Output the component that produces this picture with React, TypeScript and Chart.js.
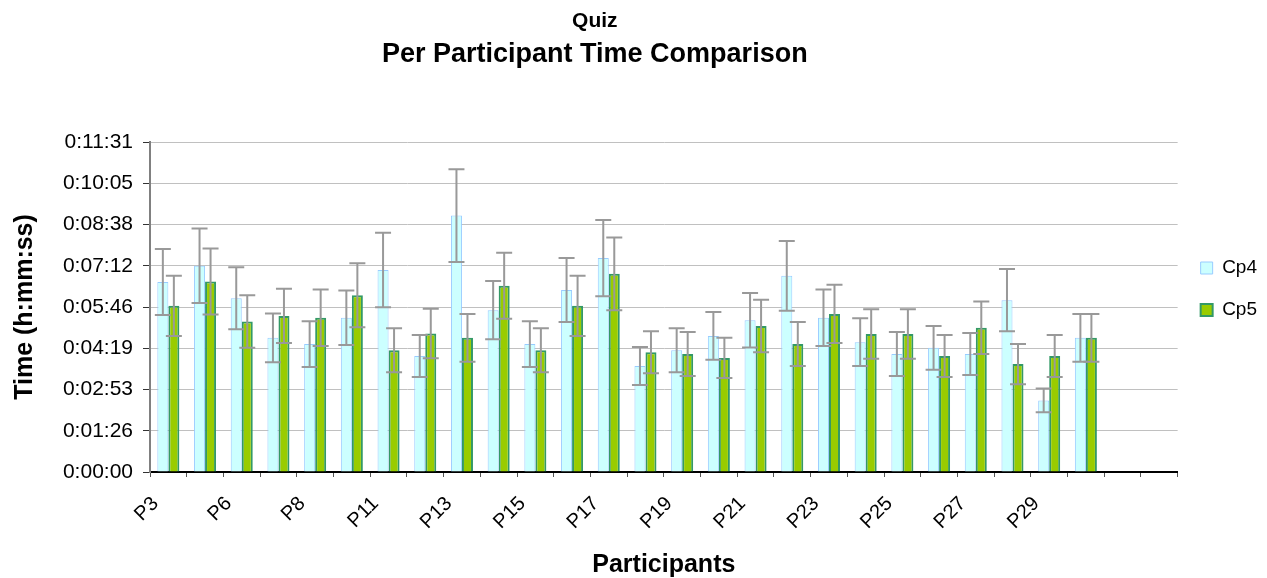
import React, { useEffect, useRef } from 'react';
import { Chart, registerables } from 'chart.js';

Chart.register(...registerables);
Chart.defaults.font.family = '"Liberation Sans", Arial, Helvetica, sans-serif';
Chart.defaults.color = '#000000';

// Categories (only every other label is displayed, as in the original)
const CATEGORIES = [
  'P3', 'P4', 'P6', 'P7', 'P8', 'P10', 'P11', 'P12', 'P13', 'P14', 'P15', 'P16', 'P17', 'P18',
  'P19', 'P20', 'P21', 'P22', 'P23', 'P24', 'P25', 'P26', 'P27', 'P28', 'P29', 'P30', '', '',
];

// Times in seconds
const CP4 = [398, 432, 364, 281, 268, 323, 423, 243, 537, 339, 268, 381, 448, 222, 255, 285, 318, 411, 323, 272, 247, 260, 247, 360, 150, 281];
const CP4_ERR = [69, 78, 65, 51, 48, 57, 78, 44, 97, 61, 48, 67, 80, 40, 46, 50, 57, 73, 59, 50, 46, 46, 44, 65, 25, 50];
const CP5 = [348, 399, 315, 327, 323, 370, 255, 290, 281, 390, 255, 348, 415, 251, 247, 239, 306, 268, 331, 289, 289, 243, 302, 226, 243, 281];
const CP5_ERR = [63, 69, 55, 57, 59, 67, 46, 52, 50, 69, 46, 63, 76, 44, 46, 42, 55, 46, 61, 52, 52, 44, 55, 42, 44, 50];

// Y axis: 0:00:00 .. 0:11:31 in steps of 0:01:26.4 (seconds)
const Y_MIN = 0;
const Y_MAX = 691.2;
const Y_STEP = 86.4;

const fmtTime = (s: number) => {
  const t = Math.round(s);
  const h = Math.floor(t / 3600);
  const m = Math.floor((t % 3600) / 60);
  const sec = t % 60;
  return `${h}:${String(m).padStart(2, '0')}:${String(sec).padStart(2, '0')}`;
};

const errorBarPlugin = {
  id: 'errorBars',
  afterDatasetsDraw(chart: any) {
    const { ctx } = chart;
    const yScale = chart.scales.y;
    ctx.save();
    ctx.strokeStyle = '#999999';
    ctx.lineWidth = 2;
    chart.data.datasets.forEach((ds: any, i: number) => {
      const meta = chart.getDatasetMeta(i);
      if (meta.hidden) return;
      meta.data.forEach((el: any, j: number) => {
        const v = ds.data[j];
        const e = ds.errors ? ds.errors[j] : null;
        if (v == null || e == null) return;
        const x = el.x;
        const top = yScale.getPixelForValue(v + e);
        const bot = yScale.getPixelForValue(v - e);
        const cap = 8;
        ctx.beginPath();
        ctx.moveTo(x, top);
        ctx.lineTo(x, bot);
        ctx.moveTo(x - cap, top);
        ctx.lineTo(x + cap, top);
        ctx.moveTo(x - cap, bot);
        ctx.lineTo(x + cap, bot);
        ctx.stroke();
      });
    });
    ctx.restore();
  },
};

// Centre the titles over the region left of the legend (as in the original)
const titleShiftPlugin = {
  id: 'titleShift',
  afterLayout(chart: any) {
    const legend = chart.legend;
    if (!legend) return;
    (chart.boxes || []).forEach((b: any) => {
      if (b.position === 'top') {
        b.left = 0;
        b.right = legend.left + 12;
      }
    });
  },
};

export default function App() {
  const canvasRef = useRef<HTMLCanvasElement | null>(null);

  useEffect(() => {
    if (!canvasRef.current) return;
    const chart = new Chart(canvasRef.current, {
      type: 'bar',
      data: {
        labels: CATEGORIES,
        datasets: [
          {
            label: 'Cp4',
            data: CP4,
            errors: CP4_ERR,
            backgroundColor: '#CCFFFF',
            borderColor: '#99CCFF',
            borderWidth: 1,
            categoryPercentage: 0.6,
            barPercentage: 1,
          } as any,
          {
            label: 'Cp5',
            data: CP5,
            errors: CP5_ERR,
            backgroundColor: '#99CC00',
            borderColor: '#339966',
            borderWidth: 2,
            categoryPercentage: 0.6,
            barPercentage: 1,
          } as any,
        ],
      },
      options: {
        animation: false,
        responsive: true,
        maintainAspectRatio: false,
        layout: { padding: 0 },
        plugins: {
          title: {
            display: true,
            text: 'Quiz',
            color: '#000',
            font: { size: 21, weight: 'bold' },
            padding: { top: 8.4, bottom: 0 },
          },
          subtitle: {
            display: true,
            text: 'Per Participant Time Comparison',
            color: '#000',
            font: { size: 27, weight: 'bold' },
            padding: { top: 5.2, bottom: 70.8 },
          },
          legend: {
            position: 'right',
            labels: {
              boxWidth: 12,
              boxHeight: 12,
              padding: 23,
              color: '#000',
              font: { size: 19 },
            },
          },
          tooltip: { enabled: false },
        },
        scales: {
          x: {
            offset: true,
            grid: {
              offset: true,
              drawOnChartArea: false,
              drawTicks: true,
              tickLength: 5,
              color: '#555555',
              tickColor: '#555555',
            },
            border: { color: '#000000', width: 2 },
            ticks: {
              autoSkip: false,
              minRotation: 45,
              maxRotation: 45,
              labelOffset: -13,
              padding: 15,
              color: '#000',
              font: { size: 20 },
              callback: (_v: any, i: number) => (i % 2 === 0 ? CATEGORIES[i] : ''),
            },
            title: {
              display: true,
              text: 'Participants',
              color: '#000',
              font: { size: 25, weight: 'bold', lineHeight: 1 },
              padding: { top: 0, bottom: 0.5 },
            },
            afterFit: (s: any) => {
              s.height = 106;
            },
          },
          y: {
            min: Y_MIN,
            max: Y_MAX,
            ticks: {
              stepSize: Y_STEP,
              color: '#000',
              font: { size: 21 },
              padding: 10,
              callback: (v: any) => fmtTime(Number(v)),
            },
            grid: {
              color: '#C0C0C0',
              lineWidth: 1,
              tickLength: 7,
              tickColor: '#333333',
            },
            border: { color: '#808080', width: 2 },
            title: {
              display: true,
              text: 'Time (h:mm:ss)',
              color: '#000',
              font: { size: 25, weight: 'bold', lineHeight: 1 },
              padding: { top: 12.5, bottom: 0 },
            },
            afterFit: (s: any) => {
              s.width = 150;
            },
          },
        },
      } as any,
      plugins: [errorBarPlugin, titleShiftPlugin],
    });
    return () => chart.destroy();
  }, []);

  return (
    <div style={{ position: 'fixed', left: 0, top: 0, width: '100vw', height: '100vh', background: '#fff' }}>
      <canvas ref={canvasRef} />
    </div>
  );
}
